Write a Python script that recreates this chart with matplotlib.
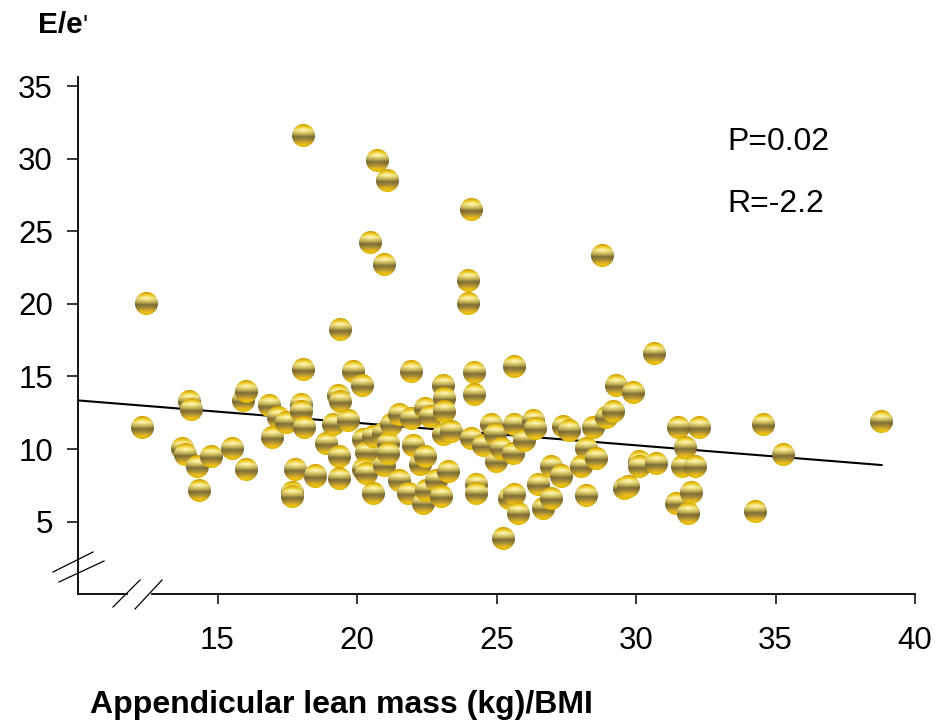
import numpy as np
import matplotlib
matplotlib.use("Agg")
import matplotlib.pyplot as plt
from matplotlib.offsetbox import OffsetImage, AnnotationBbox
from matplotlib.lines import Line2D

plt.rcParams['font.family'] = ['Liberation Sans', 'DejaVu Sans']

# data
lean_mass = [12.32, 12.45, 13.75, 13.84, 14.0, 14.07, 14.28, 14.37, 14.79, 15.53,
             15.93, 16.05, 16.05, 16.88, 16.98, 17.18, 17.48, 17.69, 17.69, 17.8,
             18.0, 18.0, 18.1, 18.11, 18.1, 18.53, 18.91, 19.15, 19.33, 19.4,
             19.4, 19.39, 19.37, 19.69, 19.87, 20.19, 20.22, 20.34, 20.22, 20.34,
             20.58, 20.58, 20.5, 20.75, 20.94, 21.0, 21.0, 21.1, 21.12, 21.12,
             21.24, 21.54, 21.54, 21.84, 21.94, 21.96, 22.02, 22.26, 22.37, 22.44,
             22.44, 22.5, 22.62, 22.85, 23.03, 23.09, 23.15, 23.15, 23.09, 23.27,
             23.39, 24.0, 24.0, 24.1, 24.1, 24.2, 24.2, 24.28, 24.28, 24.53,
             24.83, 24.95, 25.0, 25.19, 25.24, 25.48, 25.6, 25.66, 25.66, 25.66,
             25.78, 26.0, 26.32, 26.38, 26.5, 26.68, 26.97, 26.98, 27.33, 27.4,
             27.63, 28.05, 28.23, 28.23, 28.47, 28.59, 28.8, 28.95, 29.19, 29.3,
             29.6, 29.72, 29.9, 30.14, 30.14, 30.65, 30.74, 31.46, 31.52, 31.67,
             31.79, 31.87, 32.0, 32.12, 32.29, 34.27, 34.56, 35.28, 38.81]
e_ratio = [11.5, 20.0, 10.05, 9.66, 13.26, 12.74, 8.79, 7.14, 9.52, 10.05,
           13.33, 13.95, 8.61, 12.97, 10.79, 12.19, 11.82, 7.0, 6.72, 8.61,
           13.04, 12.58, 15.5, 11.47, 31.6, 8.1, 10.4, 11.71, 13.68, 13.26,
           18.2, 9.52, 7.99, 12.0, 15.33, 14.37, 10.63, 9.76, 8.56, 8.33,
           10.85, 6.96, 24.2, 29.9, 11.09, 22.7, 8.85, 28.5, 10.4, 9.71,
           11.66, 12.35, 7.87, 6.96, 15.33, 12.12, 10.28, 8.91, 6.27, 12.81,
           9.48, 7.18, 12.23, 7.87, 6.72, 14.41, 13.5, 12.58, 10.97, 8.44,
           11.2, 21.6, 20.0, 26.5, 10.74, 15.29, 13.73, 7.53, 6.96, 10.28,
           11.66, 10.97, 9.13, 10.05, 3.86, 6.61, 9.71, 15.67, 11.66, 6.84,
           5.58, 10.6, 12.0, 11.43, 7.53, 5.92, 6.61, 8.79, 8.1, 11.54,
           11.31, 8.79, 10.05, 6.77, 11.5, 9.37, 23.3, 12.19, 12.58, 14.41,
           7.3, 7.41, 13.88, 9.13, 8.79, 16.6, 9.02, 6.27, 11.5, 8.79,
           10.12, 5.53, 7.0, 8.79, 11.5, 5.69, 11.66, 9.66, 11.89]

fit_x = [10.0, 38.8]
fit_y = [13.35, 8.9]

x_ticks = [15, 20, 25, 30, 35, 40]
y_ticks = [5, 10, 15, 20, 25, 30, 35]


def make_sphere(size=23, ss=4):
    n = size * ss
    c = (np.arange(n) + 0.5) / n * 2 - 1
    u, v = np.meshgrid(c, c)
    r2 = u ** 2 + v ** 2
    inside = (r2 <= 1.0).astype(float)
    # vertical colour profile of the shiny gold ball
    vk = [-1.0, -0.7, -0.45, -0.15, 0.12, 0.4, 0.75, 1.0]
    rk = [0.93, 1.00, 1.00, 0.80, 0.50, 0.68, 0.99, 1.00]
    gk = [0.70, 0.86, 0.95, 0.72, 0.44, 0.57, 0.80, 0.85]
    bk = [0.00, 0.15, 0.55, 0.35, 0.22, 0.22, 0.10, 0.00]
    vv = np.clip(v, -1, 1)
    rgb = np.stack([np.interp(vv, vk, rk), np.interp(vv, vk, gk),
                    np.interp(vv, vk, bk)], axis=-1)
    nz = np.sqrt(np.clip(1 - r2, 0, 1))
    shade = 0.82 + 0.18 * nz
    rgb = rgb * shade[..., None]
    spot = np.exp(-((u / 0.35) ** 2 + ((v + 0.5) / 0.18) ** 2))
    rgb = rgb + (1 - rgb) * 0.45 * spot[..., None]
    rgba = np.concatenate([np.clip(rgb, 0, 1), inside[..., None]], axis=-1)
    rgba[..., :3] *= rgba[..., 3:4]
    rgba = rgba.reshape(size, ss, size, ss, 4).mean(axis=(1, 3))
    a = rgba[..., 3:4]
    rgba[..., :3] = np.where(a > 0, rgba[..., :3] / np.maximum(a, 1e-6), 0)
    return rgba


fig = plt.figure(figsize=(9.39, 7.28), dpi=100)
ax = fig.add_axes([78 / 939, 1 - 594.3 / 728, 837 / 939, 517 / 728])

ax.set_xlim(10, 40)
ax.set_ylim(0, 35.6)

ax.plot(fit_x, fit_y, color='black', lw=1.5, zorder=2)

sphere = make_sphere()
for xv, yv in zip(lean_mass, e_ratio):
    ab = AnnotationBbox(OffsetImage(sphere, zoom=1, dpi_cor=False), (xv, yv),
                        frameon=False, pad=0, zorder=3)
    ax.add_artist(ab)

for s in ['top', 'right', 'bottom']:
    ax.spines[s].set_visible(False)
ax.spines['left'].set_linewidth(1.3)

# broken x axis
ax.add_line(Line2D([0, 0.0585], [0, 0], transform=ax.transAxes, color='black',
                   lw=1.3, clip_on=False))
ax.add_line(Line2D([0.0884, 1.0], [0, 0], transform=ax.transAxes, color='black',
                   lw=1.3, clip_on=False))
# break marks
for (x0, y0, x1, y1) in [(-0.0299, 0.0431, 0.0179, 0.0818),
                         (-0.0227, 0.0238, 0.0311, 0.0644),
                         (0.0418, -0.0246, 0.0741, 0.0277),
                         (0.0681, -0.0285, 0.1004, 0.0277)]:
    ax.add_line(Line2D([x0, x1], [y0, y1], transform=ax.transAxes,
                       color='black', lw=0.9, clip_on=False))

ax.set_xticks(x_ticks)
ax.set_yticks(y_ticks)
ax.tick_params(axis='y', length=8, width=1.1, pad=10, labelsize=22.5)
ax.tick_params(axis='x', length=7, width=1.1, pad=16, labelsize=22.5)

fig.text(38 / 939, 1 - 33 / 728, "E/e", fontsize=21.5, fontweight='bold',
         ha='left', va='baseline')
fig.text(83 / 939, 1 - 33 / 728, "'", fontsize=19, ha='left', va='baseline')
fig.text(90 / 939, 1 - 713 / 728, "Appendicular lean mass (kg)/BMI",
         fontsize=23, fontweight='bold', ha='left', va='baseline')
fig.text(727 / 939, 1 - 150 / 728, "P=0.02", fontsize=23, ha='left',
         va='baseline')
fig.text(727 / 939, 1 - 211.5 / 728, "R=-2.2", fontsize=23, ha='left',
         va='baseline')

fig.savefig("out.png", dpi=100)
